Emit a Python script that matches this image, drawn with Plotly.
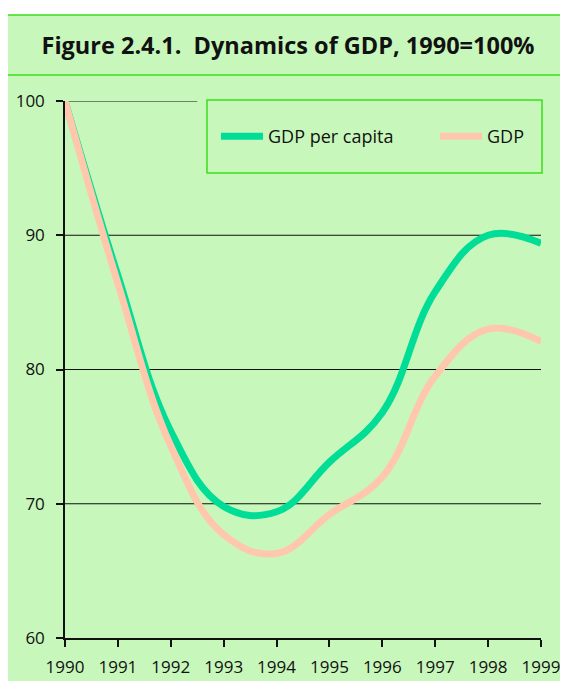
import plotly.graph_objects as go

years = [1990, 1991, 1992, 1993, 1994, 1995, 1996, 1997, 1998, 1999]
gdp_per_capita = [100, 87.0, 75.4, 69.8, 69.4, 73.1, 76.8, 85.8, 90.0, 89.4]
gdp = [100, 86.4, 74.3, 67.7, 66.3, 69.2, 72.0, 79.5, 83.0, 82.1]
y_ticks = [60, 70, 80, 90, 100]
grid_full = [70, 80, 90]

BG = "#C8F7BB"
FRAME = "#3ADF1A"
FONT = "Open Sans"

fig = go.Figure()
fig.add_trace(go.Scatter(x=years, y=gdp_per_capita, name="GDP per capita", mode="lines",
                         line=dict(color="#00DD96", width=7, shape="spline", smoothing=1.15),
                         cliponaxis=False, legend="legend"))
fig.add_trace(go.Scatter(x=years, y=gdp, name="GDP", mode="lines",
                         line=dict(color="#FFC8AC", width=7, shape="spline", smoothing=1.15),
                         cliponaxis=False, legend="legend2"))

shapes = []
shapes.append(dict(type="rect", xref="paper", yref="paper", x0=-0.1197, x1=1.06, y0=-0.09, y1=1.1601,
                   fillcolor=BG, line=dict(width=0), layer="below"))
for yy in [1.1601, 1.0484]:
    shapes.append(dict(type="line", xref="paper", yref="paper", x0=-0.1197, x1=1.06, y0=yy, y1=yy,
                       line=dict(color=FRAME, width=1.5), layer="below"))
for g in grid_full:
    shapes.append(dict(type="line", xref="x", yref="y", x0=years[0], x1=years[-1], y0=g, y1=g,
                       line=dict(color="#111111", width=1.2), layer="below"))
shapes.append(dict(type="line", xref="x", yref="y", x0=years[0], x1=1992.5, y0=100, y1=100,
                   line=dict(color="#111111", width=1.2), layer="below"))
shapes.append(dict(type="rect", xref="paper", yref="paper", x0=0.2983, x1=1.0021, y0=0.8659, y1=1.0019,
                   line=dict(color=FRAME, width=1.5), fillcolor=BG, layer="below"))

legend_common = dict(orientation="h", xanchor="left", y=0.9339, yanchor="middle",
                     bgcolor="rgba(0,0,0,0)", borderwidth=0, itemwidth=42,
                     font=dict(family=FONT, size=18, color="#111111"))

fig.update_layout(
    width=560, height=673,
    margin=dict(l=57, r=27, t=93, b=43, autoexpand=False),
    paper_bgcolor="white", plot_bgcolor=BG,
    shapes=shapes,
    title=dict(text="<b>Figure 2.4.1.\u00a0 Dynamics of GDP, 1990=100%</b>",
               x=0.5, xanchor="center", y=1 - 38 / 673, yanchor="middle",
               font=dict(family=FONT, size=23.5, color="#111111")),
    font=dict(family=FONT, color="#111111"),
    showlegend=True,
    legend=dict(x=0.3172, **legend_common),
    legend2=dict(x=0.7773, **legend_common),
    xaxis=dict(range=[years[0], years[-1]], tickmode="array", tickvals=years,
               ticktext=[str(y) for y in years], showgrid=False, zeroline=False, automargin=False,
               showline=True, linecolor="#111111", linewidth=1.5,
               ticks="outside", ticklen=7, tickcolor="#111111", tickwidth=1.5,
               ticklabelstandoff=6,
               tickfont=dict(family=FONT, size=17, color="#111111")),
    yaxis=dict(range=[60, 100], tickmode="array", tickvals=y_ticks, showgrid=False, zeroline=False,
               automargin=False,
               showline=True, linecolor="#111111", linewidth=1.5,
               ticks="outside", ticklen=7, tickcolor="#111111", tickwidth=1.5,
               ticklabelstandoff=8,
               tickfont=dict(family=FONT, size=17, color="#111111")),
)

fig.write_html("out.html")
